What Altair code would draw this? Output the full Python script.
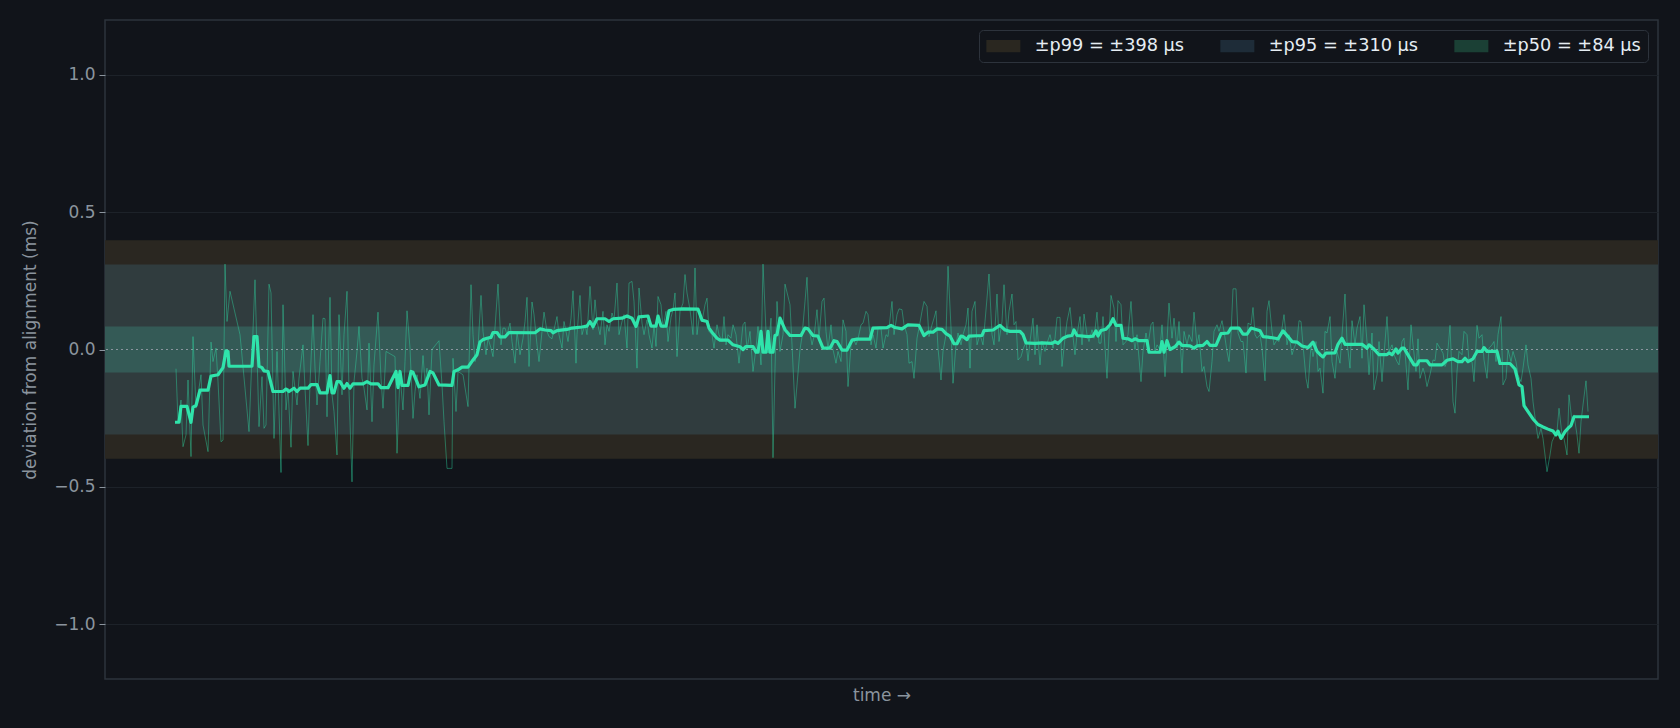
import altair as alt
import pandas as pd

# ---------------- data ----------------
# percentile bands (half-widths in ms)
band_labels = ["±p99 = ±398 µs", "±p95 = ±310 µs", "±p50 = ±84 µs"]
band_half = [0.398, 0.310, 0.084]
band_fill = ["#2a2721", "#303c3e", "#345a56"]        # as seen in the plot (overlapping)
band_swatch = ["#2a2720", "#1e2c38", "#1b4035"]      # as seen in the legend

y_ticks = [-1.0, -0.5, 0.0, 0.5, 1.0]

# raw deviation samples (time, ms)
raw_points = [
    (1,-0.07),(3,-0.263),(6,-0.184),(8,-0.354),(11,-0.311),(13,-0.111),(16,-0.39),(18,0.047),(21,-0.214),(23,-0.165),
    (26,-0.092),(28,-0.275),(33,-0.372),(36,0.027),(38,-0.044),(41,0.005),(43,-0.117),(46,-0.336),(48,-0.33),(50,0.311),
    (52,0.102),(55,0.212),(65,0.054),(70,-0.141),(74,-0.299),(80,0.254),(84,-0.281),(87,-0.099),(89,-0.287),(91,-0.275),
    (94,0.238),(96,0.206),(99,-0.324),(102,-0.007),(106,-0.448),(108,0.163),(111,-0.22),(113,-0.141),(116,-0.356),(118,-0.08),
    (122,-0.202),(124,-0.105),(128,0.017),(130,-0.141),(133,-0.35),(135,-0.123),(138,0.127),(140,-0.068),(142,-0.202),(145,-0.044),
    (148,0.114),(150,0.112),(152,-0.245),(155,0.19),(157,-0.165),(159,-0.226),(162,-0.384),(164,0.127),(167,-0.165),(169,0.054),
    (172,0.212),(174,-0.153),(177,-0.482),(179,-0.117),(182,-0.007),(184,0.084),(187,-0.105),(189,-0.141),(192,-0.22),(194,0.023),
    (197,-0.263),(199,-0.056),(203,0.136),(206,-0.105),(208,-0.214),(211,-0.007),(220,-0.026),(222,-0.378),(225,-0.092),(228,-0.22),
    (230,-0.044),(232,0.141),(235,0.005),(238,-0.251),(240,-0.153),(242,-0.092),(245,-0.178),(248,-0.022),(250,-0.117),(252,-0.068),
    (254,-0.238),(257,0.0),(264,0.032),(267,-0.129),(269,-0.263),(272,-0.433),(277,-0.433),
    (278,-0.032),(281,-0.226),(283,-0.08),(288,-0.092),(293,-0.208),(296,0.236),(298,0.054),(300,-0.044),(303,0.005),(306,0.197),
    (308,0.066),(311,-0.019),(313,0.041),(316,0.005),(318,-0.026),(323,0.238),(326,0.017),(328,0.078),(330,0.078),(332,0.054),
    (335,0.096),(337,0.029),(340,-0.05),(342,0.066),(345,-0.019),(348,0.041),(350,0.102),(352,0.19),(354,-0.062),(357,0.173),
    (359,0.127),(362,0.017),(364,-0.044),(367,0.066),(369,0.136),(372,0.066),(374,0.047),(377,0.039),(379,0.072),(382,0.12),
    (384,0.054),(387,0.005),(389,0.102),(391,0.066),(393,0.029),(396,0.114),(398,0.214),(401,-0.05),(402,0.054),(405,0.197),
    (407,0.054),(410,0.09),(412,0.054),(415,0.23),(418,0.072),(420,0.181),(422,0.102),(425,0.054),(428,0.139),(430,0.017),
    (432,0.09),(434,0.066),(437,0.133),(439,0.108),(442,0.242),(444,0.054),(447,0.102),(449,0.127),(452,0.005),(454,0.242),
    (457,0.248),(459,0.175),(462,-0.068),(464,0.224),(467,0.096),(469,0.054),(472,0.108),(474,0.054),(477,0.005),(479,0.09),
    (481,0.011),(483,0.193),(486,0.163),(488,0.078),(491,0.139),(493,0.029),(496,0.117),(498,0.145),(500,0.206),(502,-0.026),
    (505,0.139),(508,0.169),(510,0.273),(512,0.206),(515,0.145),(518,0.054),(520,0.297),(522,0.054),(525,0.139),(527,0.102),
    (530,0.163),(532,0.187),(534,0.066),(537,0.054),(539,0.005),(542,0.09),(544,0.054),(547,0.029),(549,0.12),(551,0.017),
    (553,0.054),(556,0.041),(558,0.09),(561,0.054),(564,-0.05),
    (568,0.09),(570,0.1),(572,0.0),(575,0.066),(578,-0.08),(581,0.005),(583,0.084),(586,-0.056),(588,0.311),(591,0.066),
    (593,-0.013),(596,0.114),(598,-0.394),(600,-0.068),(602,0.175),(605,-0.007),(608,0.054),(610,0.238),(615,0.163),(617,0.017),
    (620,-0.214),(622,-0.129),(625,0.0),(627,0.047),(630,0.175),(632,0.263),(634,0.078),(637,0.017),(639,0.047),(642,0.145),
    (644,0.041),(647,0.175),(649,0.187),(651,0.066),(653,0.0),(656,0.09),(658,0.0),(661,-0.05),(663,-0.007),(666,-0.044),
    (668,0.108),(671,0.066),(673,-0.135),(676,0.017),(678,0.041),(681,0.017),(683,0.039),(686,0.09),(688,0.096),(691,0.139),
    (693,0.127),(696,0.017),(698,0.054),(701,0.005),(703,0.078),(706,0.078),(708,0.005),(711,0.054),(713,0.047),(717,0.175),
    (719,0.054),(722,0.127),(724,0.148),(727,0.145),(729,0.09),(732,0.054),(734,-0.05),(737,-0.044),(739,-0.105),(742,0.041),
    (744,0.078),(747,0.139),(749,0.175),(752,0.157),(754,0.047),(757,0.09),(759,0.114),(761,0.141),(763,0.005),(766,-0.111),
    (768,-0.007),(771,0.054),(773,0.303),(776,0.078),(778,-0.123),(781,0.017),(783,0.06),(786,0.017),(788,0.054),(791,0.09),
    (793,0.151),(795,-0.068),(797,0.139),(800,0.175),(802,0.017),(805,0.054),(808,0.017),(810,0.102),(812,0.187),(814,0.275),
    (817,0.054),(819,0.017),(822,0.202),(824,0.029),(827,0.102),(829,0.236),(832,0.054),(834,0.139),(837,0.202),(839,0.09),
    (841,0.102),(843,-0.038),(846,-0.026),(848,0.0),(851,0.029),(853,-0.041),
    (855,0.029),(858,0.114),(860,-0.019),(862,0.09),(865,-0.056),(867,0.029),(870,-0.007),(872,0.023),(875,0.054),(878,0.005),
    (880,0.041),(882,0.117),(885,0.117),(887,-0.062),(890,0.041),(892,0.102),(895,0.153),(897,0.078),(900,-0.019),(902,0.054),
    (905,0.12),(907,0.017),(909,0.129),(912,0.054),(914,0.029),(917,0.072),(919,0.041),(922,0.136),(924,0.023),(926,0.023),
    (928,0.12),(932,-0.105),(934,0.054),(936,0.197),(939,0.151),(941,0.029),(943,0.178),(946,0.163),(948,0.017),(951,0.029),
    (953,0.054),(956,0.175),(958,0.054),(960,0.0),(962,0.054),(966,-0.117),(968,-0.007),(971,0.06),(973,0.017),(976,0.09),
    (978,0.1),(980,-0.007),(982,0.017),(985,0.0),(987,0.09),(990,-0.099),(992,0.029),(994,0.169),(997,0.041),(999,0.114),
    (1002,0.005),(1004,0.102),(1007,-0.086),(1009,0.066),(1012,0.017),(1014,0.054),(1017,0.029),(1019,0.136),(1022,0.017),(1024,0.054),
    (1027,-0.08),(1029,-0.062),(1032,-0.135),(1034,-0.153),(1037,-0.044),(1039,0.066),(1042,0.09),(1044,0.066),(1047,0.105),(1049,0.066),
    (1052,-0.007),(1054,-0.044),(1056,0.054),(1058,0.221),(1061,0.221),(1063,0.06),(1066,0.029),(1068,0.029),(1071,-0.086),(1073,0.096),
    (1076,0.09),(1078,0.153),(1080,0.054),(1082,0.041),(1085,0.054),(1087,0.005),(1090,-0.114),(1092,0.139),(1094,0.178),(1097,0.066),
    (1099,0.017),(1102,0.035),(1104,0.029),(1107,0.078),(1109,0.127),(1112,0.017),(1114,0.054),(1117,-0.019),(1119,0.005),(1122,0.029),
    (1124,0.105),(1126,0.102),(1128,0.017),(1131,-0.105),(1133,-0.141),(1136,0.017),(1138,-0.026),(1141,0.029),(1143,-0.08),
    (1145,-0.068),(1148,-0.159),(1150,0.066),(1152,0.06),(1155,0.12),(1157,-0.044),(1160,-0.105),(1162,-0.007),(1165,-0.05),(1167,0.054),
    (1170,0.202),(1172,0.029),(1175,-0.068),(1177,0.105),(1180,0.017),(1182,0.078),(1185,0.12),(1187,-0.032),(1189,0.163),(1192,0.029),
    (1194,-0.092),(1197,0.06),(1199,-0.147),(1202,-0.092),(1204,0.029),(1207,-0.117),(1209,-0.019),(1212,0.12),(1214,-0.007),(1217,0.017),
    (1219,-0.019),(1222,-0.044),(1224,-0.056),(1227,0.029),(1229,0.041),(1231,-0.056),(1233,-0.147),(1236,0.09),(1238,0.017),(1241,-0.08),
    (1243,0.039),(1245,-0.105),(1248,-0.068),(1250,-0.092),(1252,-0.135),(1255,-0.092),(1258,-0.038),(1260,-0.041),(1262,0.023),(1265,0.005),
    (1268,-0.013),(1270,-0.062),(1272,-0.044),(1275,0.088),(1278,-0.19),(1280,-0.232),(1282,-0.08),(1284,-0.007),(1287,-0.019),(1289,0.066),
    (1292,0.054),(1294,-0.044),(1297,-0.044),(1299,-0.117),(1302,0.088),(1304,0.041),(1307,0.054),(1309,-0.038),(1312,-0.105),(1314,0.005),
    (1317,0.017),(1319,0.029),(1321,-0.044),(1323,0.054),(1326,0.12),(1328,-0.129),(1331,-0.105),(1333,0.0),(1336,-0.044),(1338,-0.007),
    (1341,-0.044),(1343,-0.092),(1346,-0.117),(1348,-0.068),(1351,0.017),(1353,-0.056),(1356,-0.105),(1358,-0.19),(1361,-0.275),(1363,-0.324),
    (1366,-0.287),(1368,-0.324),(1370,-0.384),(1372,-0.445),(1375,-0.384),(1377,-0.336),(1380,-0.311),(1382,-0.299),(1384,-0.214),(1387,-0.311),
    (1389,-0.324),(1392,-0.384),(1394,-0.165),(1397,-0.263),(1399,-0.238),(1402,-0.311),(1404,-0.378),(1406,-0.263),(1408,-0.202),(1411,-0.114),
    (1413,-0.226),
]

# smoothed (rolling) deviation (time, ms)
smooth_points = [
    (0,-0.265),(4,-0.265),(6,-0.207),(12,-0.207),(16,-0.265),(18,-0.21),(21,-0.204),(25,-0.148),(33,-0.148),(36,-0.097),
    (43,-0.092),(48,-0.066),(51,-0.005),(53,-0.007),(54,-0.061),(77,-0.061),(79,0.047),(82,0.047),(84,-0.061),(87,-0.066),
    (89,-0.078),(93,-0.08),(98,-0.153),(108,-0.153),(111,-0.144),(114,-0.153),(119,-0.141),(122,-0.153),(125,-0.141),(133,-0.141),
    (136,-0.128),(142,-0.128),(145,-0.158),(152,-0.158),(155,-0.095),(157,-0.158),(159,-0.158),(162,-0.117),(165,-0.117),(169,-0.141),
    (172,-0.124),(175,-0.141),(178,-0.125),(188,-0.125),(192,-0.117),(196,-0.125),(203,-0.125),(206,-0.139),(213,-0.139),(221,-0.08),
    (223,-0.139),(225,-0.08),(227,-0.131),(233,-0.131),(236,-0.08),(238,-0.083),(244,-0.136),(250,-0.129),(255,-0.08),(258,-0.085),
    (264,-0.129),(277,-0.131),(279,-0.08),(283,-0.074),(287,-0.064),(293,-0.064),(298,-0.038),(302,-0.019),(305,0.027),(308,0.036),
    (312,0.041),(316,0.044),(318,0.062),(322,0.062),(325,0.046),(330,0.046),(334,0.062),(360,0.061),(365,0.075),(370,0.071),
    (376,0.069),(378,0.061),(382,0.069),(392,0.073),(397,0.078),(407,0.082),(412,0.085),(415,0.102),(418,0.083),(422,0.112),
    (430,0.112),(434,0.102),(438,0.112),(447,0.114),(452,0.122),(457,0.114),(461,0.084),(464,0.119),(473,0.122),(476,0.085),
    (481,0.085),(483,0.122),(486,0.085),(491,0.085),(494,0.141),(498,0.146),(508,0.148),(523,0.147),(527,0.107),(532,0.102),
    (534,0.078),(538,0.058),(542,0.041),(545,0.034),(553,0.034),(558,0.017),(565,0.01),(568,0.0),(571,0.011),(578,0.011),
    (581,-0.01),(583,-0.01),(586,0.066),(588,-0.01),(591,-0.01),(593,0.066),(595,-0.01),(598,-0.01),(600,0.051),(602,0.054),
    (605,0.114),(610,0.072),(615,0.051),(626,0.051),(630,0.078),(633,0.075),(638,0.051),(643,0.049),(648,0.005),(655,0.005),
    (659,0.032),(662,0.029),(667,-0.002),(672,-0.002),(677,0.034),(682,0.038),(695,0.038),(698,0.078),(712,0.08),(716,0.088),
    (720,0.08),(727,0.075),(733,0.09),(744,0.088),(749,0.051),(753,0.063),(758,0.063),(762,0.075),(767,0.073),(771,0.058),
    (775,0.049),(779,0.021),(782,0.021),(786,0.049),(788,0.047),(792,0.036),(794,0.049),(807,0.051),(809,0.069),(818,0.071),
    (825,0.088),(830,0.071),(835,0.066),(845,0.066),(848,0.054),(851,0.024),(855,0.023),(860,0.022),(867,0.024),(877,0.022),
    (880,0.029),(883,0.022),(888,0.041),(893,0.049),(897,0.051),(899,0.071),(902,0.051),(913,0.047),(918,0.049),(921,0.068),
    (923,0.049),(926,0.069),(931,0.074),(935,0.09),(938,0.112),(941,0.088),(946,0.088),(948,0.041),(953,0.039),(957,0.032),
    (960,0.039),(964,0.032),(972,0.032),(974,-0.01),(985,-0.01),(987,0.029),(989,-0.01),(992,0.032),(995,0.0),(1000,0.01),
    (1004,0.027),(1007,0.015),(1015,0.013),(1019,0.005),(1022,0.013),(1028,0.015),(1032,0.029),(1035,0.015),(1041,0.015),(1046,0.058),
    (1053,0.06),(1056,0.078),(1064,0.078),(1068,0.056),(1072,0.056),(1076,0.078),(1081,0.073),(1085,0.068),(1088,0.047),(1093,0.045),
    (1103,0.039),(1108,0.068),(1113,0.047),(1117,0.029),(1122,0.027),(1127,0.013),(1133,0.007),(1138,0.027),(1142,-0.007),(1145,-0.018),
    (1148,-0.027),(1151,-0.013),(1160,-0.012),(1163,0.019),(1167,0.041),(1170,0.019),(1187,0.019),(1192,0.005),(1194,0.017),(1198,0.005),
    (1204,-0.019),(1212,-0.019),(1214,-0.012),(1217,-0.019),(1221,0.002),(1223,-0.013),(1227,0.005),(1229,0.005),(1234,-0.026),(1239,-0.056),
    (1242,-0.056),(1244,-0.041),(1252,-0.041),(1255,-0.056),(1267,-0.056),(1272,-0.039),(1278,-0.034),(1283,-0.044),(1287,-0.044),(1290,-0.032),
    (1293,-0.044),(1298,-0.034),(1302,-0.007),(1307,-0.007),(1309,0.007),(1312,-0.007),(1322,-0.007),(1325,-0.051),(1335,-0.051),(1340,-0.071),
    (1344,-0.129),(1347,-0.135),(1349,-0.204),(1353,-0.226),(1358,-0.253),(1363,-0.273),(1368,-0.282),(1373,-0.29),(1378,-0.297),(1381,-0.311),
    (1383,-0.297),(1386,-0.324),(1390,-0.299),(1393,-0.287),(1396,-0.277),(1399,-0.245),(1414,-0.245),
]

# ---------------- styling ----------------
BG = "#11141a"
FRAME = "#2d333c"
GRID = "#1d2229"
MUTED = "#8b949e"
TEXT = "#e6edf3"
ACCENT = "#2fe4ab"
FONT = "DejaVu Sans"

W, H = 1553, 659
x_scale = alt.Scale(domain=[-70, 1483], nice=False, zero=False)
y_scale = alt.Scale(domain=[-1.2, 1.2], nice=False, zero=False)

bands = pd.DataFrame({
    "band": band_labels,
    "lo": [-h for h in band_half],
    "hi": band_half,
    "fill": band_fill,
})
raw = pd.DataFrame(raw_points, columns=["t", "v"])
smooth = pd.DataFrame(smooth_points, columns=["t", "v"])
zero = pd.DataFrame({"v": [0.0]})

y_axis = alt.Axis(
    values=y_ticks, format=".1f", labelFontSize=17, labelColor=MUTED, labelFont=FONT,
    labelPadding=4, tickColor=MUTED, tickSize=6, domain=False, grid=True, gridColor=GRID,
    gridWidth=1, title="deviation from alignment (ms)", titleFontSize=17, titleColor=MUTED,
    titleFont=FONT, titleFontWeight="normal", titlePadding=14,
)
x_axis = alt.Axis(
    labels=False, ticks=False, domain=False, grid=False, title="time →",
    titleFontSize=17, titleColor=MUTED, titleFont=FONT, titleFontWeight="normal", titlePadding=8,
)

band_layer = alt.Chart(bands).mark_rect().encode(
    y=alt.Y("lo:Q", scale=y_scale, axis=y_axis),
    y2="hi:Q",
    fill=alt.Fill("fill:N", scale=None),
)

legend_layer = alt.Chart(bands).mark_rect().encode(
    x=alt.value(0), x2=alt.value(0), y=alt.value(0), y2=alt.value(0),
    color=alt.Color(
        "band:N",
        scale=alt.Scale(domain=band_labels, range=band_swatch),
        legend=alt.Legend(
            title=None, orient="top-right", direction="horizontal", columns=3,
            symbolType="M-1,-0.72H3V0.72H-1Z", symbolSize=289, symbolStrokeWidth=0,
            symbolOpacity=1, labelFontSize=17.7, labelColor=TEXT, labelFont=FONT,
            labelOffset=31, columnPadding=36, padding=7, fillColor=BG,
            strokeColor=FRAME, cornerRadius=4, offset=10,
        ),
    ),
)

zero_layer = alt.Chart(zero).mark_rule(color=MUTED, strokeWidth=1.2, strokeDash=[2, 3]).encode(
    y=alt.Y("v:Q", scale=y_scale)
)

raw_layer = alt.Chart(raw).mark_line(color=ACCENT, strokeWidth=1, opacity=0.4).encode(
    x=alt.X("t:Q", scale=x_scale, axis=x_axis),
    y=alt.Y("v:Q", scale=y_scale),
)

smooth_layer = alt.Chart(smooth).mark_line(color=ACCENT, strokeWidth=3.2, strokeJoin="round").encode(
    x=alt.X("t:Q", scale=x_scale),
    y=alt.Y("v:Q", scale=y_scale),
)

chart = alt.layer(
    band_layer, zero_layer, raw_layer, smooth_layer, legend_layer
).properties(
    width=W, height=H, background=BG, autosize="none",
    padding={"left": 105, "top": 20, "right": 22, "bottom": 49},
).configure(
    font=FONT,
).configure_view(
    stroke=FRAME, strokeWidth=1.5,
)

chart.save("out.html", embed_options={"renderer": "svg", "actions": False})
